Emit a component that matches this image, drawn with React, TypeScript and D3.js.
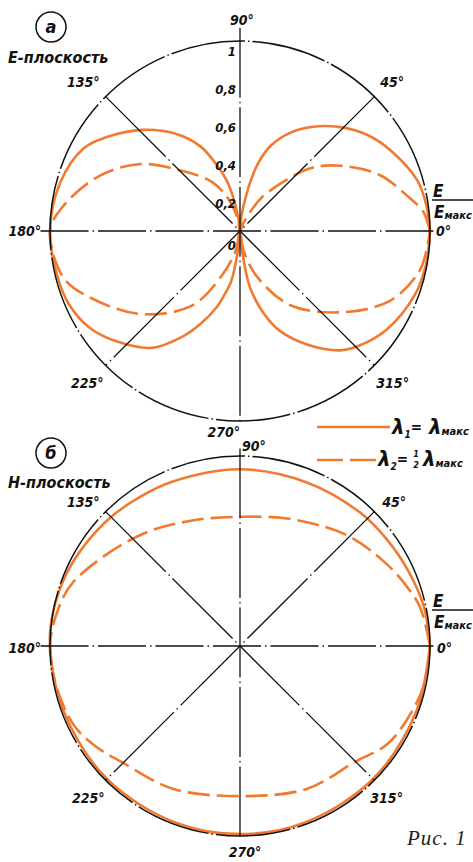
import * as d3 from "d3";

// E-plane (a): polar angle in degrees, relative field E/Emax
const eSolidAngles = [0, 8, 16, 28, 37, 46, 55, 63, 70, 75, 78, 81, 85, 90, 97, 102, 105, 109, 115, 124, 134, 145, 152, 165, 180, 194, 203, 213, 222, 233, 241, 247, 253, 257, 260, 264, 270, 276, 280, 286, 292, 301, 310, 316, 326, 340, 350, 360];
const eSolidValues = [1.0, 0.99, 0.97, 0.9, 0.84, 0.76, 0.67, 0.58, 0.48, 0.37, 0.27, 0.16, 0.07, 0, 0.07, 0.2, 0.28, 0.36, 0.49, 0.62, 0.74, 0.86, 0.93, 0.98, 1.0, 0.99, 0.98, 0.94, 0.87, 0.77, 0.64, 0.53, 0.42, 0.33, 0.27, 0.1, 0, 0.1, 0.3, 0.45, 0.57, 0.7, 0.82, 0.87, 0.93, 0.98, 0.995, 1.0];

const eDashedAngles = [0, 6, 11, 22, 33, 41, 47, 57, 62, 67, 90, 100, 110, 120, 134, 146, 159, 173, 180, 195, 205, 220, 237, 248, 258, 270, 280, 290, 304, 321, 335, 348, 360];
const eDashedValues = [1.0, 0.97, 0.91, 0.79, 0.63, 0.51, 0.38, 0.21, 0.11, 0.04, 0, 0.06, 0.18, 0.3, 0.44, 0.63, 0.8, 0.95, 1.0, 0.96, 0.85, 0.68, 0.47, 0.25, 0.1, 0, 0.1, 0.25, 0.47, 0.68, 0.87, 0.97, 1.0];

// H-plane (б)
const hSolidAngles = [0, 12, 24, 36, 48, 68, 90, 112, 124, 135, 147, 158, 170, 180, 200, 225, 250, 270, 290, 315, 340, 360];
const hSolidValues = [1.0, 0.99, 0.97, 0.955, 0.945, 0.93, 0.93, 0.935, 0.945, 0.96, 0.975, 0.99, 1.0, 1.0, 0.99, 0.99, 0.99, 0.99, 0.99, 0.99, 0.99, 1.0];

const hDashedAngles = [0, 12, 20, 30, 46, 68, 90, 112, 133, 159, 170, 180, 192, 205, 214, 225, 245, 270, 295, 315, 326, 336, 348, 360];
const hDashedValues = [1.0, 0.97, 0.93, 0.88, 0.81, 0.72, 0.68, 0.71, 0.79, 0.94, 0.98, 1.0, 0.99, 0.97, 0.93, 0.87, 0.83, 0.79, 0.83, 0.86, 0.93, 0.96, 0.99, 1.0];

const radialTicks = [0, 0.2, 0.4, 0.6, 0.8, 1];
const radialTickLabels = ["0", "0,2", "0,4", "0,6", "0,8", "1"];
const diagonalAngles = [45, 135];

const ORANGE = "#f07a30";
const R = 190;
const labelFont = "'Liberation Sans Narrow', 'DejaVu Sans Condensed', 'Liberation Sans', sans-serif";

const rScale = d3.scaleLinear().domain([0, 1]).range([0, R]);
// 0° at 3 o'clock, counter-clockwise; lineRadial wants clockwise from 12 o'clock
const aScale = d3.scaleLinear().domain([0, 360]).range([Math.PI / 2, Math.PI / 2 - 2 * Math.PI]);

const radial = d3
  .lineRadial<[number, number]>()
  .angle((d) => aScale(d[0]))
  .radius((d) => rScale(d[1]))
  .curve(d3.curveCatmullRom.alpha(0.5));

const zip = (a: number[], v: number[]) => a.map((x, i) => [x, v[i]] as [number, number]);

const pt = (deg: number, r: number) => {
  const t = (deg * Math.PI) / 180;
  return [r * Math.cos(t), -r * Math.sin(t)];
};

type Lab = { text: string; deg: number; anchor: string; dx: number; dy: number };

function Deg({ l }: { l: Lab }) {
  const [x, y] = pt(l.deg, R);
  return (
    <text x={x + l.dx} y={y + l.dy} textAnchor={l.anchor} fontSize={14}>
      {l.text}
    </text>
  );
}

function Fraction({ x, y }: { x: number; y: number }) {
  return (
    <g fontSize={17}>
      <text x={x} y={y}>E</text>
      <line x1={x - 1} x2={x + 40} y1={y + 3} y2={y + 3} stroke="#111" strokeWidth={1.3} />
      <text x={x + 1} y={y + 21}>
        E<tspan fontSize={11} dy={1}>макс</tspan>
      </text>
    </g>
  );
}

function Polar({ cx, cy, solid, dashed, labels, ticks, vTop, vBottom }: any) {
  const guide = { stroke: "#111", strokeWidth: 1.3, fill: "none" };
  return (
    <g transform={`translate(${cx},${cy})`}>
      <path d={radial(solid) || ""} fill="none" stroke={ORANGE} strokeWidth={2.6} strokeLinecap="round" />
      <path d={radial(dashed) || ""} fill="none" stroke={ORANGE} strokeWidth={2.6} strokeDasharray="22 7" />
      <circle r={rScale(1)} {...guide} strokeWidth={1.5} strokeDasharray="75 3 1.5 3" />
      <line x1={-rScale(1.05)} x2={rScale(1.04)} y1={0} y2={0} {...guide} strokeDasharray="48 4 1.5 4" />
      <line x1={0} x2={0} y1={-rScale(vTop)} y2={rScale(vBottom)} {...guide} strokeDasharray="70 4 1.5 4" />
      {diagonalAngles.map((a) => {
        const [x1, y1] = pt(a, R);
        return <line key={a} x1={x1} y1={y1} x2={-x1} y2={-y1} {...guide} strokeDasharray="85 4 1.5 4" />;
      })}
      <g fontFamily={labelFont} fontWeight="bold" fontStyle="italic" fill="#111">
        {labels.map((l: Lab) => <Deg key={l.text} l={l} />)}
        {ticks &&
          radialTicks.map((v, i) => (
            <text key={v} x={-4} y={-rScale(v) + (v === 0 ? 19 : 15)} textAnchor="end" fontSize={13}>
              {radialTickLabels[i]}
            </text>
          ))}
      </g>
    </g>
  );
}

const labelsA: Lab[] = [
  { text: "0°", deg: 0, anchor: "start", dx: 6, dy: 5 },
  { text: "45°", deg: 45, anchor: "start", dx: 6, dy: -10 },
  { text: "90°", deg: 90, anchor: "start", dx: -10, dy: -16 },
  { text: "135°", deg: 135, anchor: "end", dx: -6, dy: -10 },
  { text: "180°", deg: 180, anchor: "end", dx: -9, dy: 5 },
  { text: "225°", deg: 225, anchor: "end", dx: -2, dy: 23 },
  { text: "270°", deg: 270, anchor: "end", dx: 0, dy: 16 },
  { text: "315°", deg: 315, anchor: "start", dx: 2, dy: 23 },
];

const labelsB: Lab[] = [
  { text: "0°", deg: 0, anchor: "start", dx: 7, dy: 7 },
  { text: "45°", deg: 45, anchor: "start", dx: 8, dy: -5 },
  { text: "90°", deg: 90, anchor: "start", dx: 2, dy: -5 },
  { text: "135°", deg: 135, anchor: "end", dx: -6, dy: -5 },
  { text: "180°", deg: 180, anchor: "end", dx: -9, dy: 7 },
  { text: "225°", deg: 225, anchor: "end", dx: -1, dy: 23 },
  { text: "270°", deg: 270, anchor: "middle", dx: 5, dy: 21 },
  { text: "315°", deg: 315, anchor: "start", dx: -4, dy: 23 },
];

export default function App() {
  const txt = { fontFamily: labelFont, fontWeight: "bold", fontStyle: "italic", fill: "#111" } as any;
  return (
    <svg width={473} height={862} style={{ position: "absolute", left: 0, top: 0, background: "#fff" }}>
      <Polar cx={240} cy={231} solid={zip(eSolidAngles, eSolidValues)} dashed={zip(eDashedAngles, eDashedValues)} labels={labelsA} ticks vTop={1.07} vBottom={1.02} />
      <Polar cx={240} cy={646} solid={zip(hSolidAngles, hSolidValues)} dashed={zip(hDashedAngles, hDashedValues)} labels={labelsB} ticks={false} vTop={1.04} vBottom={1.02} />

      <g {...txt}>
        <circle cx={51} cy={27} r={15} fill="none" stroke="#111" strokeWidth={1.5} />
        <text x={51} y={33} textAnchor="middle" fontSize={18}>а</text>
        <text x={8} y={63} fontSize={16}>E-плоскость</text>
        <circle cx={51} cy={453} r={15} fill="none" stroke="#111" strokeWidth={1.5} />
        <text x={51} y={459} textAnchor="middle" fontSize={18}>б</text>
        <text x={8} y={488} fontSize={16}>H-плоскость</text>
        <Fraction x={433} y={197} />
        <Fraction x={433} y={607} />
      </g>

      {/* legend */}
      <line x1={317} x2={390} y1={427} y2={427} stroke={ORANGE} strokeWidth={2.6} />
      <line x1={317} x2={378} y1={460} y2={460} stroke={ORANGE} strokeWidth={2.6} strokeDasharray="26 7" />
      <g {...txt}>
        <text x={392} y={434} fontSize={22}>
          λ<tspan fontSize={10} dy={4}>1</tspan>
          <tspan fontSize={15} dy={-6}>=</tspan>
          <tspan fontSize={22} dy={2}> λ</tspan>
          <tspan fontSize={11} dy={1}>макс</tspan>
        </text>
        <text x={378} y={466} fontSize={22}>
          λ<tspan fontSize={10} dy={4}>2</tspan>
          <tspan fontSize={15} dy={-6}>=</tspan>
        </text>
        <text x={416} y={457} fontSize={9} textAnchor="middle">1</text>
        <text x={416} y={468} fontSize={9} textAnchor="middle">2</text>
        <text x={423} y={466} fontSize={22}>
          λ<tspan fontSize={11} dy={1}>макс</tspan>
        </text>
      </g>

      <text x={407} y={845} fontSize={21} fontStyle="italic" fontFamily="'Liberation Serif', serif" fill="#222" letterSpacing={1}>
        Рис. 1
      </text>
    </svg>
  );
}
